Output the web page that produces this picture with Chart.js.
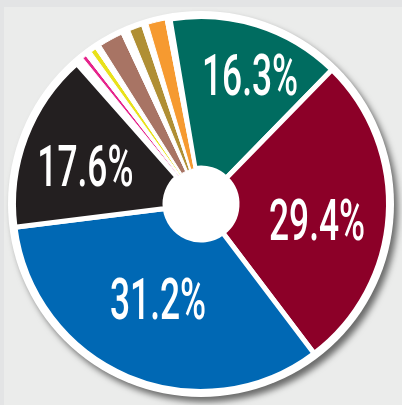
<!DOCTYPE html>
<html>
<head>
<meta charset="utf-8">
<script src="https://cdn.jsdelivr.net/npm/chart.js@4.4.1/dist/chart.umd.min.js"></script>
<style>
html,body{margin:0;padding:0;}
body{width:402px;height:405px;background:#e3e4e5;position:relative;overflow:hidden;}
#panel{position:absolute;left:4px;top:7px;right:0;bottom:0;background:#ebeceb;}
#pie{position:absolute;left:0;top:0;}
</style>
</head>
<body>
<div id="panel"></div>
<canvas id="pie" width="402" height="405"></canvas>
<script>
// slices clockwise from the teal one; sizes in degrees
var sliceNames   = ['teal', 'red', 'blue', 'black', 'gap', 'magenta', 'gap', 'yellow', 'gap', 'brown', 'gap', 'olive', 'gap', 'orange', 'gap'];
var sliceDegrees = [53.8, 98.6, 120.0, 55.6, 2.5, 1.2, 2.0, 1.6, 1.9, 7.2, 2.8, 3.9, 2.0, 5.4, 1.5];
// the numbers printed on the four big slices
var printedShare = [16.3, 29.4, 31.2, 17.6];

var colorOf = {
    teal: '#006c60',
    red: '#8c0028',
    blue: '#0068b4',
    black: '#231f20',
    magenta: '#e6248c',
    yellow: '#e9e11a',
    brown: '#a87464',
    olive: '#b08f34',
    orange: '#f69a30',
    gap: '#ffffff'
};


// white plate with a drop shadow under the pie
var platePlugin = {
    id: 'plate',
    beforeDatasetsDraw: function(chart, args, opts) {
        var arc = chart.getDatasetMeta(0).data[0];
        var ctx = chart.ctx;
        ctx.save();
        ctx.shadowColor = 'rgba(0,0,0,0.55)';
        ctx.shadowBlur = 6;
        ctx.shadowOffsetX = 4;
        ctx.shadowOffsetY = 5;
        ctx.fillStyle = '#ffffff';
        ctx.beginPath();
        ctx.arc(arc.x, arc.y, opts.radius, 0, Math.PI * 2);
        ctx.fill();
        ctx.restore();
    }
};

// big white percentages
var labelPlugin = {
    id: 'bigLabels',
    afterDatasetsDraw: function(chart, args, opts) {
        var ctx = chart.ctx;
        var arcs = chart.getDatasetMeta(0).data;
        ctx.save();
        ctx.fillStyle = '#ffffff';
        ctx.font = opts.font;
        ctx.textAlign = 'center';
        ctx.textBaseline = 'alphabetic';
        printedShare.forEach(function(v, i) {
            var a = arcs[i];
            var mid = (a.startAngle + a.endAngle) / 2 + opts.turn[i] * Math.PI / 180;
            var x = a.x + Math.cos(mid) * opts.radius[i];
            var y = a.y + Math.sin(mid) * opts.radius[i];
            var t = v.toFixed(1) + '%';
            var m = ctx.measureText(t);
            ctx.save();
            ctx.translate(x, y);
            ctx.scale(opts.squeeze, 1);
            ctx.fillText(t, 0, (m.actualBoundingBoxAscent - m.actualBoundingBoxDescent) / 2);
            ctx.restore();
        });
        ctx.restore();
    }
};


var myChart = new Chart(document.getElementById('pie').getContext('2d'), {
    type: 'doughnut',
    data: {
        labels: sliceNames,
        datasets: [{
            data: sliceDegrees,
            backgroundColor: sliceNames.map(function(n) { return colorOf[n]; }),
            borderColor: '#ffffff',
            borderWidth: sliceNames.map(function(n, i) { return i < 4 ? 5 : 1; }),
            hoverOffset: 0
        }]
    },
    options: {
        responsive: false,
        animation: false,
        events: [],
        rotation: -9.5,
        radius: 187.5,
        cutout: '19.2%',
        layout: { padding: { top: 3 } },
        plugins: {
            legend: { display: false },
            tooltip: { enabled: false },
            plate: { radius: 193 },
            bigLabels: {
                font: '500 57px Roboto',
                squeeze: 0.62,
                radius: [138, 117, 104, 122],
                turn: [3.4, 3.8, 1.5, -2.1]
            }
        }
    },
    plugins: [platePlugin, labelPlugin]
});
</script>
</body>
</html>
